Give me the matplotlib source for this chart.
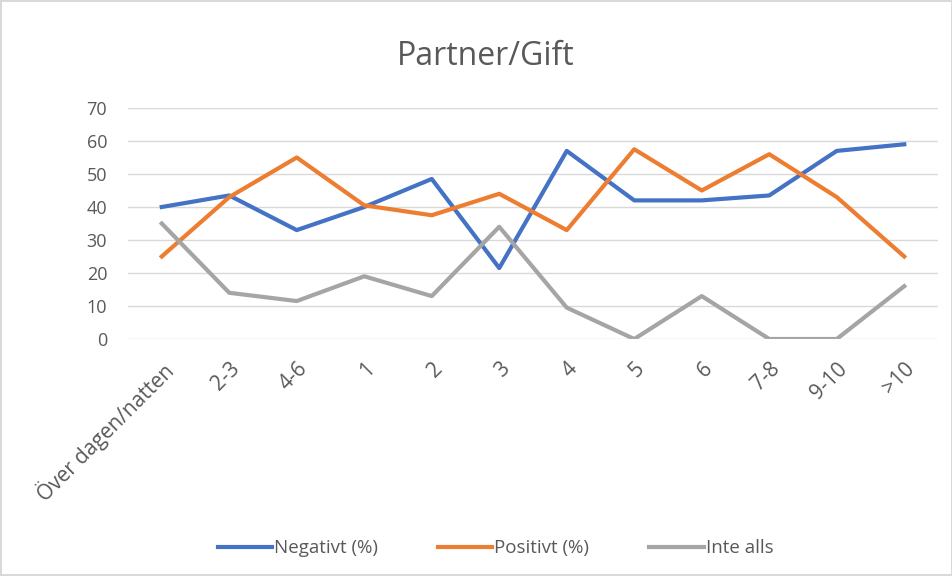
import matplotlib.pyplot as plt

plt.rcParams['font.family'] = ['Open Sans', 'DejaVu Sans']

# categories and series
categories = ['Över dagen/natten', '2-3', '4-6', '1', '2', '3', '4', '5', '6', '7-8', '9-10', '>10']
negativt = [40, 43.5, 33, 40, 48.5, 21.5, 57, 42, 42, 43.5, 57, 59]
positivt = [25, 43, 55, 40.5, 37.5, 44, 33, 57.5, 45, 56, 43, 25]
inte_alls = [35, 14, 11.5, 19, 13, 34, 9.5, 0, 13, 0, 0, 16]
yticks = [0, 10, 20, 30, 40, 50, 60, 70]

text_col = '#595959'

fig = plt.figure(figsize=(9.53, 5.76), dpi=100)
fig.patch.set_edgecolor('#D9D9D9')
fig.patch.set_linewidth(1.5)
ax = fig.add_axes([128 / 953, 1 - 339 / 576, (938 - 128) / 953, (339 - 108) / 576])

x = range(len(categories))
ax.plot(x, negativt, color='#4472C4', lw=3, label='Negativt (%)', solid_joinstyle='round')
ax.plot(x, positivt, color='#ED7D31', lw=3, label='Positivt (%)', solid_joinstyle='round')
ax.plot(x, inte_alls, color='#A5A5A5', lw=3, label='Inte alls', solid_joinstyle='round')

ax.set_xlim(-0.5, len(categories) - 0.5)
ax.set_ylim(0, 70)
ax.set_yticks(yticks)
ax.grid(axis='y', color='#D9D9D9', lw=1)
ax.set_axisbelow(True)
for s in ax.spines.values():
    s.set_visible(False)
ax.tick_params(axis='both', length=0, colors=text_col)
ax.tick_params(axis='y', pad=15, labelsize=13)
ax.tick_params(axis='x', pad=14, labelsize=15)
ax.set_xticks(list(x))
ax.set_xticklabels(categories, rotation=45, ha='right', rotation_mode='anchor')

fig.suptitle('Partner/Gift', x=0.51, y=0.93, fontsize=23, color=text_col)

fig.legend(loc='center', bbox_to_anchor=(0.52, 0.048), ncol=3, frameon=False,
           fontsize=13.5, labelcolor=text_col, handlelength=2.9, handletextpad=0.1,
           columnspacing=3.2)

fig.savefig('out.png', dpi=100)
